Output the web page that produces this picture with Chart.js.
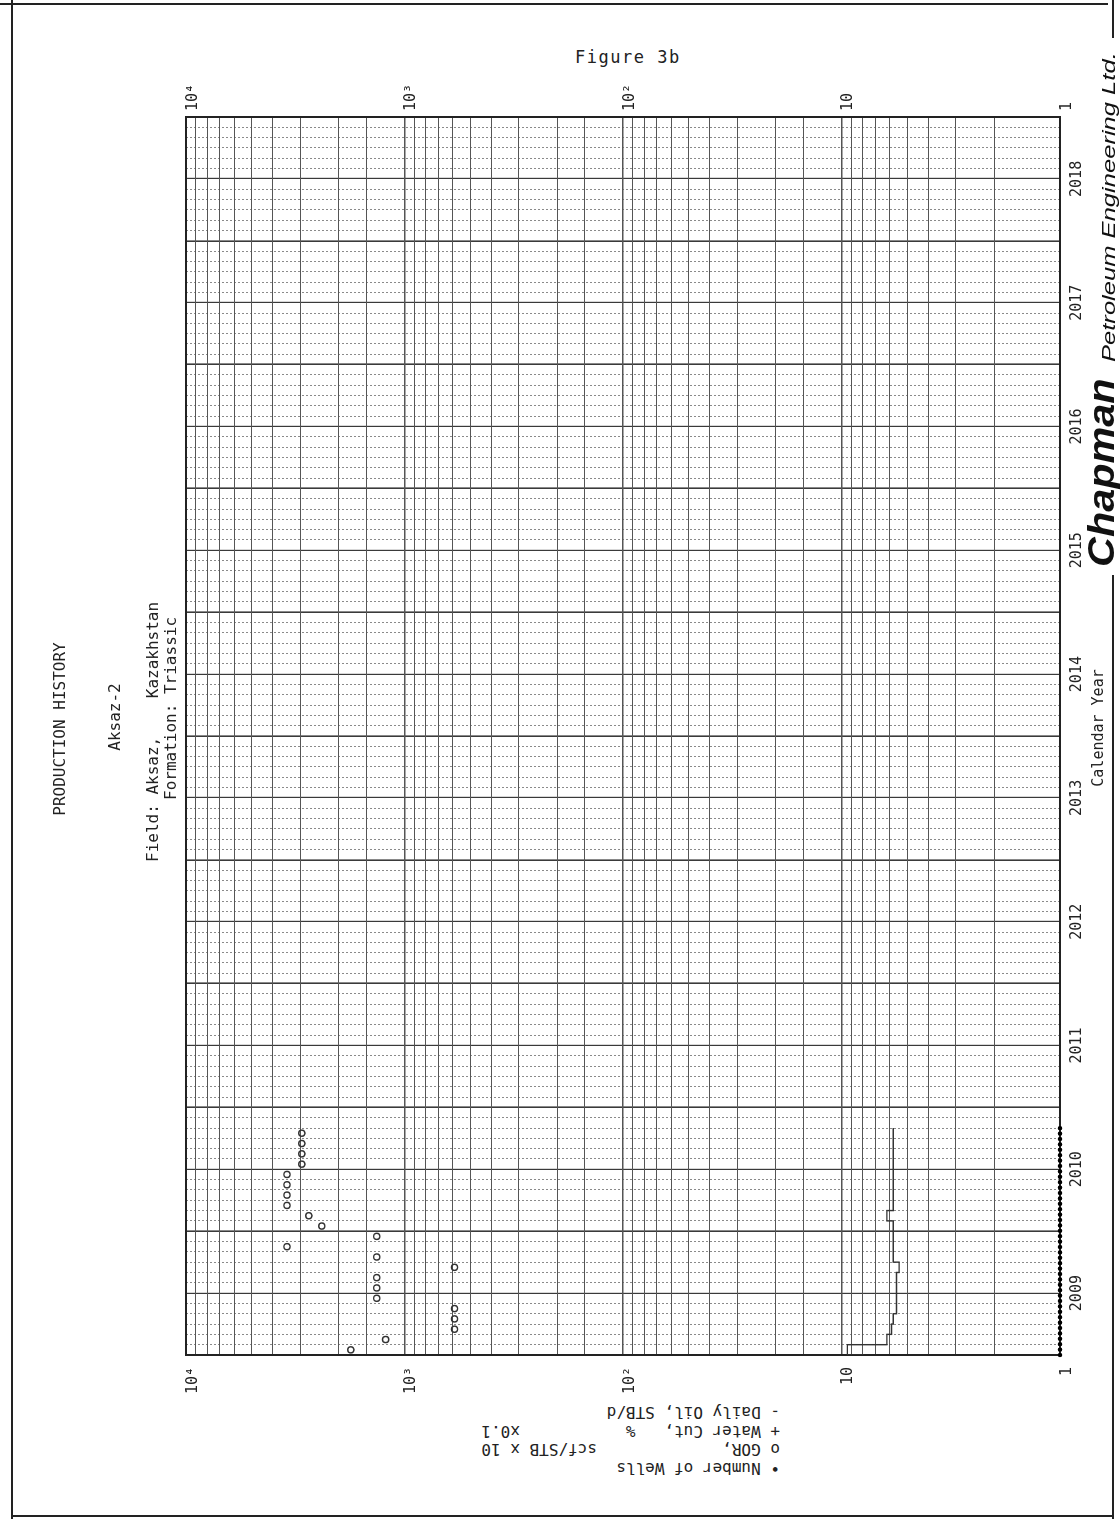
<!DOCTYPE html>
<html><head><meta charset="utf-8">
<script src="https://cdn.jsdelivr.net/npm/chart.js@4.4.1/dist/chart.umd.min.js"></script>
<style>
html,body{margin:0;padding:0;background:#fff;width:1120px;height:1519px;overflow:hidden;}
body{position:relative;font-family:"DejaVu Sans Mono",monospace;color:#222;}
#rot{position:absolute;left:0;top:0;width:1519px;height:1120px;transform-origin:0 0;transform:translateY(1519px) rotate(-90deg);}
#rot canvas{position:absolute;left:0;top:0;}
.t{position:absolute;white-space:pre;font-size:16px;line-height:16px;}
.c{transform:translate(-50%,-50%);}
.ln{position:absolute;background:#222;}
#legend{position:absolute;left:478px;top:1403px;width:302px;height:74px;transform:rotate(180deg);font-size:16px;line-height:18.5px;white-space:pre;}
</style></head>
<body>
<div class="ln" style="left:11px;top:0;width:2px;height:1519px"></div>
<div class="ln" style="left:11px;top:1515px;width:1103px;height:2px"></div>
<div class="ln" style="left:0;top:3px;width:1108px;height:1.5px"></div>
<div class="ln" style="left:1112px;top:575px;width:2px;height:944px"></div>
<div class="ln" style="left:1112px;top:0;width:2px;height:38px"></div>
<div class="t" style="left:575px;top:49px;font-size:17px;letter-spacing:1.5px">Figure 3b</div>
<div id="legend">• Number of Wells
o GOR,             scf/STB x 10
+ Water Cut,   %           x0.1
- Daily Oil, STB/d</div>
<div id="rot">
  <canvas id="c" width="1519" height="1120" style="width:1519px;height:1120px"></canvas>
  <div class="t c" style="left:790px;top:60px">PRODUCTION HISTORY</div>
  <div class="t c" style="left:802px;top:115px">Aksaz-2</div>
  <div class="t" style="left:657px;top:145px">Field: Aksaz,    Kazakhstan</div>
  <div class="t" style="left:719px;top:163px">Formation: Triassic</div>
  <div class="t c" style="left:791px;top:1098px;font-size:15px;line-height:15px">Calendar Year</div>
  <div class="t" style="left:952px;top:1084px;font-family:'Liberation Sans',Arial,sans-serif;font-weight:bold;font-style:italic;font-size:36px;line-height:36px;transform-origin:0 0;transform:scaleX(1.15);color:#111">Chapman</div>
  <div class="t" style="left:1157px;top:1100px;font-family:'Liberation Sans',Arial,sans-serif;font-style:italic;font-size:18px;line-height:18px;color:#111;transform-origin:0 0;transform:scaleX(1.42)">Petroleum Engineering Ltd.</div>
</div>
<script>
// ---- data ----
const months = ['2009-01','2009-02','2009-03','2009-04','2009-05','2009-06','2009-07','2009-08','2009-09','2009-10','2009-11','2009-12',
                '2010-01','2010-02','2010-03','2010-04','2010-05','2010-06','2010-07','2010-08','2010-09','2010-10'];
const numberOfWells = [1,1,1,1,1,1,1,1,1,1,1,1,1,1,1,1,1,1,1,1,1,1];
const gorScaled = [1760,1220,590,590,590,1340,1340,1340,590,1340,3450,1340,2390,2740,3450,3450,3450,3450,2950,2950,2950,2950];
const waterCutScaled = [];
const dailyOil = [7.9,9.4,6.2,5.9,5.8,5.6,5.6,5.6,5.6,5.45,5.8,5.8,5.8,5.8,6.2,5.8,5.8,5.8,5.8,5.8,5.8,5.8];
const startYear = 2009;
const endYear = 2019;
const yearLabels = ['2009','2010','2011','2012','2013','2014','2015','2016','2017','2018'];
const logTickLabels = {1:'1', 10:'10', 100:'10\u00B2', 1000:'10\u00B3', 10000:'10\u2074'};

// ---- helpers ----
function monthIndex(s){const [y,m]=s.split('-').map(Number);return (y-startYear)*12+(m-1);}
const mid = months.map(s=>monthIndex(s)+0.5);
const gorPts = mid.map((x,i)=>({x,y:gorScaled[i]}));
function stepSeries(vals){
  const pts = months.map((s,i)=>({x:monthIndex(s),y:vals[i]}));
  pts.push({x:monthIndex(months[months.length-1])+1,y:vals[vals.length-1]});
  return pts;
}
const oilPts = stepSeries(dailyOil);
const wellPts = stepSeries(numberOfWells);

const FONT = {family:'"DejaVu Sans Mono", monospace', size:15};
const isDecade = v => Math.abs(Math.log10(v) - Math.round(Math.log10(v))) < 1e-9;

const frame = {id:'frame', beforeDatasetsDraw(chart){const {ctx,chartArea:a}=chart;ctx.save();ctx.strokeStyle='#222';ctx.lineWidth=2;ctx.strokeRect(a.left,a.top,a.right-a.left,a.bottom-a.top);ctx.restore();}};

new Chart(document.getElementById('c'), {
  type:'scatter',
  data:{datasets:[
    {label:'Daily Oil, STB/d', data:oilPts, showLine:true, stepped:'after', borderColor:'#333', borderWidth:1.4, pointRadius:0, fill:false, order:1},
    {label:'Number of Wells', data:wellPts, showLine:true, stepped:'after', borderColor:'#000', borderWidth:4.4, borderDash:[0,5.4], borderCapStyle:'round', pointRadius:0, fill:false, clip:false, order:0},
    {label:'GOR, scf/STB x 10', data:gorPts, pointStyle:'circle', pointRadius:3.1, backgroundColor:'rgba(0,0,0,0)', borderColor:'#333', borderWidth:1.4, order:3},
    {label:'Water Cut, % x0.1', data:waterCutScaled, pointStyle:'crossRot', pointRadius:3, borderColor:'#444', order:4}
  ]},
  options:{
    responsive:false, animation:false, devicePixelRatio:1,
    layout:{padding:{top:186,left:0,right:0,bottom:0}},
    plugins:{legend:{display:false}, tooltip:{enabled:false}},
    scales:{
      x:{type:'linear', position:'bottom', min:0, max:(endYear-startYear)*12,
         afterFit(s){s.height=60;},
         ticks:{stepSize:1, autoSkip:false, maxRotation:0, minRotation:0, padding:8, color:'#222', font:FONT,
                callback:(v)=> (v%12===6) ? yearLabels[(v-6)/12] : ''},
         grid:{drawTicks:false,
               color:c=> (c.tick && c.tick.value%6===0) ? '#3a3a3a' : '#8a8a8a',
               lineWidth:c=> !c.tick ? 1 : (c.tick.value%12===0 ? 1.6 : (c.tick.value%6===0 ? 1.2 : 1))},
         border:{display:false, dash:c=> (c.tick && c.tick.value%6!==0) ? [2,2] : []},
         title:{display:false}
      },
      y:{type:'logarithmic', position:'left', min:1, max:10000,
         afterFit(s){s.width=164;},
         ticks:{autoSkip:false, padding:12, labelOffset:7, color:'#222', font:FONT, callback:(v)=> logTickLabels[v] || ''},
         grid:{drawTicks:false, color:'#555', lineWidth:c=> (c.tick && isDecade(c.tick.value)) ? 1.6 : 1},
         border:{display:false}
      },
      y2:{type:'logarithmic', position:'right', min:1, max:10000,
         afterFit(s){s.width=117;},
         ticks:{autoSkip:false, padding:6, labelOffset:7, color:'#222', font:FONT, callback:(v)=> logTickLabels[v] || ''},
         grid:{display:false, drawTicks:false},
         border:{display:false}
      }
    }
  },
  plugins:[frame]
});
</script>
</body></html>
